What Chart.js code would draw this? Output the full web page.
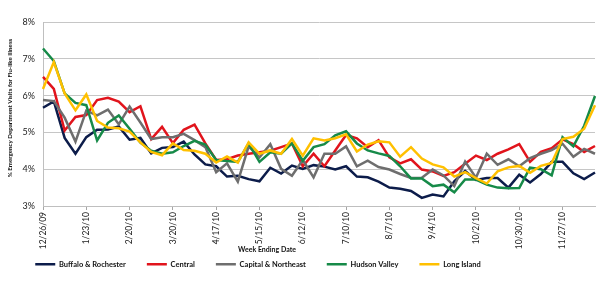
<!DOCTYPE html>
<html><head><meta charset="utf-8">
<script src="https://cdn.jsdelivr.net/npm/chart.js@4"></script>
<style>html,body{margin:0;padding:0;background:#fff}</style>
</head><body>
<canvas id="c" width="600" height="300"></canvas>
<script>
const weeks = ['12/26/09','1/2/10','1/9/10','1/16/10','1/23/10','1/30/10','2/6/10','2/13/10','2/20/10','2/27/10','3/6/10','3/13/10','3/20/10','3/27/10','4/3/10','4/10/10','4/17/10','4/24/10','5/1/10','5/8/10','5/15/10','5/22/10','5/29/10','6/5/10','6/12/10','6/19/10','6/26/10','7/3/10','7/10/10','7/17/10','7/24/10','7/31/10','8/7/10','8/14/10','8/21/10','8/28/10','9/4/10','9/11/10','9/18/10','9/25/10','10/2/10','10/9/10','10/16/10','10/23/10','10/30/10','11/6/10','11/13/10','11/20/10','11/27/10','12/4/10','12/11/10','12/18/10'];
const seriesNames = ['Buffalo & Rochester','Central','Capital & Northeast','Hudson Valley','Long Island'];
const buffaloRochester = [5.67,5.84,4.85,4.42,4.87,5.07,5.08,5.16,4.80,4.85,4.43,4.58,4.60,4.75,4.40,4.13,4.08,3.80,3.82,3.73,3.67,4.04,3.88,4.10,4.01,4.11,4.07,3.99,4.08,3.80,3.78,3.66,3.50,3.47,3.41,3.22,3.31,3.26,3.67,3.95,3.71,3.76,3.76,3.50,3.85,3.64,3.87,4.20,4.20,3.89,3.73,3.91];
const central = [6.51,6.18,5.05,5.42,5.47,5.88,5.94,5.84,5.55,5.71,4.82,5.15,4.71,5.07,5.21,4.70,4.25,4.27,4.37,4.42,4.46,4.50,4.60,4.70,4.08,4.42,4.08,4.51,4.93,4.84,4.60,4.79,4.32,4.16,4.27,3.99,3.94,3.82,3.92,4.15,4.37,4.25,4.42,4.54,4.68,4.20,4.47,4.57,4.81,4.68,4.47,4.63];
const capitalNortheast = [5.88,5.85,5.40,4.75,5.59,5.46,5.62,5.22,5.70,5.27,4.82,4.87,4.87,4.96,4.79,4.60,3.92,4.16,3.66,4.62,4.32,4.68,4.01,3.82,4.25,3.78,4.42,4.42,4.62,4.08,4.23,4.06,3.99,3.87,3.76,3.77,3.99,3.83,3.54,4.21,3.77,4.42,4.12,4.27,4.08,4.30,4.42,4.52,4.69,4.34,4.55,4.42];
const hudsonValley = [7.28,6.94,6.06,5.80,5.74,4.78,5.26,5.46,5.10,4.72,4.50,4.42,4.46,4.63,4.77,4.67,4.25,4.22,4.20,4.70,4.20,4.46,4.42,4.70,4.23,4.60,4.68,4.92,5.03,4.70,4.51,4.43,4.36,4.08,3.75,3.75,3.54,3.58,3.37,3.72,3.72,3.58,3.50,3.48,3.49,4.04,4.00,3.83,4.87,4.62,5.18,5.99];
const longIsland = [6.18,6.91,6.06,5.60,6.03,5.31,5.13,5.11,5.02,4.73,4.47,4.38,4.70,4.52,4.50,4.42,4.18,4.35,4.18,4.73,4.42,4.51,4.42,4.82,4.37,4.84,4.78,4.84,4.95,4.48,4.67,4.76,4.73,4.34,4.60,4.29,4.13,4.05,3.80,3.92,3.76,3.61,3.94,4.05,4.09,3.90,4.09,4.17,4.82,4.88,5.10,5.74];
const yTicks = [3,4,5,6,7,8];
const xTitle = 'Week Ending Date';
const yTitle = '% Emergency Department Visits for Flu-like Illness';

const colors = ['#0c1c4a','#e1141c','#6e6e6e','#168a48','#ffc000'];
const allSeries = [buffaloRochester, central, capitalNortheast, hudsonValley, longIsland];
const FONT = 'Lato, "Open Sans", sans-serif';

// legend row placed as in the original (moved up and to the left)
const legendShift = {
  id: 'legendShift',
  afterLayout(chart) {
    const lg = chart.legend;
    if (lg) { lg.top -= 22; lg.bottom -= 22; lg.left -= 42; lg.right -= 42; }
  }
};
// axis titles, placed where the original has them
const axisTitles = {
  id: 'axisTitles',
  afterDraw(chart) {
    const ctx = chart.ctx, ca = chart.chartArea;
    ctx.save();
    ctx.fillStyle = '#111';
    ctx.font = 'bold 7px ' + FONT;
    ctx.textAlign = 'center';
    ctx.textBaseline = 'middle';
    ctx.fillText(xTitle, (ca.left + ca.right) / 2 - 52, 250);
    ctx.translate(10, (ca.top + ca.bottom) / 2 - 6);
    ctx.rotate(-Math.PI / 2);
    ctx.font = 'bold 6.2px ' + FONT;
    ctx.fillText(yTitle, 0, 0);
    ctx.restore();
  }
};

new Chart(document.getElementById('c'), {
  type: 'line',
  data: {
    labels: weeks,
    datasets: allSeries.map((d, k) => ({
      label: seriesNames[k],
      data: d,
      borderColor: colors[k],
      backgroundColor: colors[k],
      borderWidth: 2.5,
      pointRadius: 0,
      tension: 0,
      fill: false,
      order: 4 - k
    }))
  },
  plugins: [legendShift, axisTitles],
  options: {
    responsive: false,
    animation: false,
    layout: { padding: { left: 5, right: 5, top: 22, bottom: 0 } },
    plugins: {
      tooltip: { enabled: false },
      legend: {
        position: 'bottom',
        labels: {
          usePointStyle: true,
          pointStyle: 'line',
          pointStyleWidth: 20,
          padding: 21,
          color: '#111',
          font: { family: FONT, size: 7.5, weight: 'bold' },
          sort: (a, b) => a.datasetIndex - b.datasetIndex
        }
      }
    },
    scales: {
      x: {
        offset: false,
        afterFit: s => { s.height = 55.5; },
        grid: { display: true, drawOnChartArea: false, tickLength: 4, color: '#a6a6a6' },
        border: { color: '#bfbfbf' },
        ticks: {
          autoSkip: false, maxRotation: 90, minRotation: 90, padding: 2,
          color: '#222', font: { family: FONT, size: 8.5 },
          callback: function (v, i) { return i % 4 === 0 ? weeks[i] : null; }
        }
      },
      y: {
        min: 3, max: 8,
        afterFit: s => { s.width = 38; },
        afterBuildTicks: s => { s.ticks = yTicks.map(v => ({ value: v })); },
        grid: { color: '#c6c6c6', lineWidth: 1, drawTicks: false },
        border: { color: '#bfbfbf' },
        ticks: { padding: 8, color: '#222', font: { family: FONT, size: 9 }, callback: v => v + '%' }
      }
    }
  }
});
</script>
</body></html>
